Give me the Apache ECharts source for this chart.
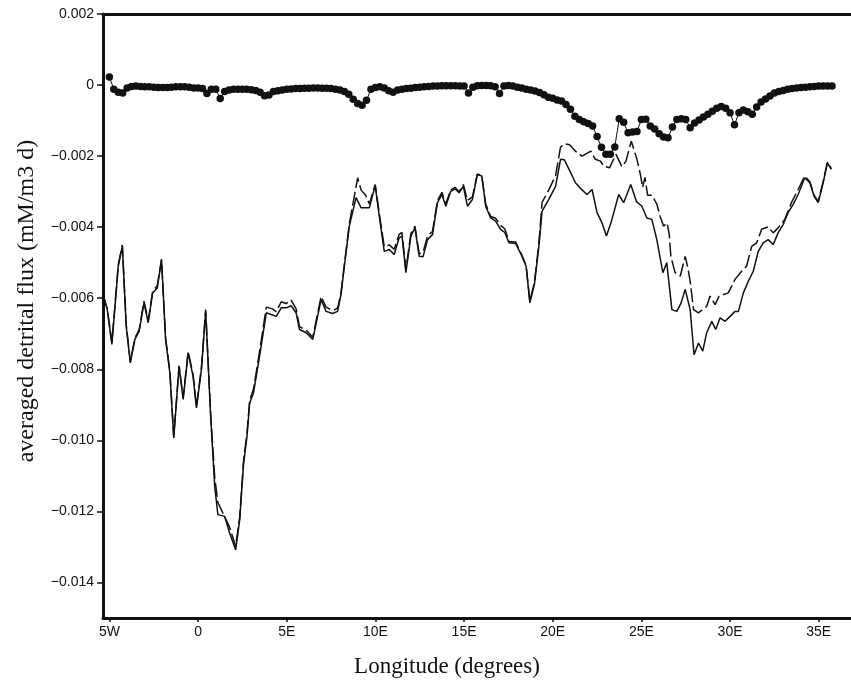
<!DOCTYPE html>
<html>
<head>
<meta charset="utf-8">
<script src="https://cdn.jsdelivr.net/npm/echarts@6/dist/echarts.min.js"></script>
<style>
  html, body { margin: 0; padding: 0; background: #fff; }
  #chart { width: 851px; height: 684px; }
</style>
</head>
<body>
<div id="chart"></div>
<script>
// tick positions (degrees / flux x1e-3)
const xTicks = [-5, 0, 5, 10, 15, 20, 25, 30, 35];
const yTicks = [2, 0, -2, -4, -6, -8, -10, -12, -14];

// solid line: [lon, flux x1e-3]
const solidLine = [
  [-5.40,-3.90],[-5.33,-5.94],[-5.12,-6.32],[-4.86,-7.30],[-4.59,-5.66],[-4.50,-5.10],[-4.27,-4.54],
  [-4.05,-6.79],[-3.82,-7.82],[-3.56,-7.16],[-3.32,-6.93],[-3.05,-6.13],[-2.81,-6.69],[-2.56,-5.85],
  [-2.30,-5.71],[-2.06,-4.93],[-1.83,-7.16],[-1.59,-8.10],[-1.37,-9.93],[-1.07,-7.92],[-0.84,-8.85],
  [-0.56,-7.54],[-0.28,-8.20],[-0.09,-9.09],[0.19,-8.01],[0.43,-6.37],[0.71,-9.32],[0.94,-11.30],
  [1.12,-12.09],[1.50,-12.14],[1.78,-12.61],[2.12,-13.08],[2.35,-12.23],[2.57,-10.64],[2.76,-9.89],
  [2.91,-8.95],[3.13,-8.66],[3.47,-7.63],[3.85,-6.41],[4.41,-6.51],[4.69,-6.27],[4.97,-6.27],
  [5.25,-6.21],[5.53,-6.41],[5.72,-6.88],[6.10,-6.97],[6.47,-7.16],[6.94,-6.04],[7.22,-6.37],
  [7.59,-6.43],[7.87,-6.37],[8.06,-5.90],[8.25,-5.10],[8.53,-3.97],[8.91,-3.17],[9.19,-3.45],
  [9.66,-3.45],[9.99,-2.83],[10.22,-3.69],[10.50,-4.68],[10.78,-4.63],[11.06,-4.77],[11.34,-4.30],
  [11.50,-4.25],[11.72,-5.28],[12.00,-4.25],[12.23,-4.02],[12.47,-4.82],[12.69,-4.83],[12.94,-4.35],
  [13.22,-4.21],[13.50,-3.31],[13.75,-3.08],[13.97,-3.41],[14.25,-2.99],[14.49,-2.92],[14.72,-3.03],
  [14.96,-2.85],[15.19,-3.41],[15.47,-3.22],[15.75,-2.52],[16.00,-2.56],[16.22,-3.41],[16.50,-3.74],
  [16.78,-3.83],[17.06,-4.06],[17.30,-4.15],[17.53,-4.44],[17.91,-4.46],[18.25,-4.80],[18.50,-5.10],
  [18.71,-6.13],[18.97,-5.60],[19.22,-4.54],[19.40,-3.55],[19.78,-3.22],[20.16,-2.85],[20.44,-2.09],
  [20.65,-2.10],[21.00,-2.45],[21.28,-2.75],[21.55,-2.90],[21.93,-3.08],[22.22,-2.94],[22.50,-3.59],
  [22.78,-3.88],[23.03,-4.25],[23.30,-3.85],[23.72,-3.08],[24.00,-3.31],[24.40,-2.80],[24.72,-3.28],
  [25.03,-3.41],[25.31,-3.74],[25.59,-3.78],[25.87,-4.35],[26.21,-5.28],[26.43,-5.00],[26.72,-6.32],
  [27.00,-6.37],[27.24,-6.13],[27.47,-5.75],[27.75,-6.32],[27.97,-7.59],[28.22,-7.26],[28.46,-7.49],
  [28.68,-6.97],[28.97,-6.65],[29.19,-6.88],[29.44,-6.55],[29.72,-6.65],[30.00,-6.51],[30.28,-6.37],
  [30.47,-6.37],[30.75,-5.85],[31.03,-5.52],[31.31,-5.24],[31.59,-4.68],[31.87,-4.44],[32.15,-4.35],
  [32.43,-4.49],[32.71,-4.16],[33.00,-3.92],[33.27,-3.59],[33.56,-3.36],[33.84,-3.08],[34.21,-2.61],
  [34.50,-2.75],[34.74,-3.13],[34.97,-3.31],[35.25,-2.75],[35.49,-2.19],[35.71,-2.37]
];

// dashed line: [lon, flux x1e-3]
const dashedLine = [
  [-5.40,-3.90],[-5.33,-5.94],[-5.12,-6.30],[-4.86,-7.25],[-4.59,-5.62],[-4.50,-5.05],[-4.27,-4.50],
  [-4.05,-6.75],[-3.82,-7.78],[-3.56,-7.12],[-3.32,-6.88],[-3.05,-6.08],[-2.81,-6.62],[-2.56,-5.80],
  [-2.30,-5.65],[-2.06,-4.90],[-1.83,-7.12],[-1.59,-8.05],[-1.37,-9.88],[-1.07,-7.90],[-0.84,-8.80],
  [-0.56,-7.50],[-0.28,-8.15],[-0.09,-9.05],[0.19,-7.95],[0.43,-6.32],[0.71,-9.25],[0.94,-11.05],
  [1.12,-11.75],[1.40,-12.05],[1.78,-12.45],[2.12,-12.98],[2.35,-12.15],[2.57,-10.55],[2.76,-9.80],
  [2.91,-8.88],[3.13,-8.55],[3.47,-7.50],[3.85,-6.25],[4.20,-6.30],[4.41,-6.38],[4.69,-6.10],
  [4.97,-6.15],[5.25,-6.05],[5.53,-6.30],[5.72,-6.80],[6.10,-6.90],[6.47,-7.10],[6.94,-5.95],
  [7.22,-6.25],[7.59,-6.35],[7.87,-6.28],[8.06,-5.85],[8.25,-5.05],[8.53,-3.90],[8.75,-3.30],
  [9.00,-2.61],[9.19,-2.95],[9.45,-3.10],[9.66,-3.35],[9.99,-2.80],[10.22,-3.62],[10.50,-4.55],
  [10.78,-4.50],[11.06,-4.62],[11.34,-4.20],[11.50,-4.15],[11.72,-5.20],[12.00,-4.18],[12.23,-3.97],
  [12.47,-4.75],[12.69,-4.70],[12.94,-4.25],[13.22,-4.12],[13.50,-3.25],[13.75,-3.02],[13.97,-3.35],
  [14.25,-2.95],[14.49,-2.88],[14.72,-3.00],[14.96,-2.80],[15.19,-3.25],[15.47,-3.15],[15.75,-2.50],
  [16.00,-2.55],[16.22,-3.35],[16.50,-3.70],[16.78,-3.75],[17.06,-3.95],[17.30,-4.05],[17.53,-4.40],
  [17.91,-4.42],[18.25,-4.78],[18.50,-5.08],[18.71,-6.08],[18.97,-5.55],[19.22,-4.45],[19.40,-3.30],
  [19.78,-2.95],[20.16,-2.55],[20.44,-1.75],[20.65,-1.65],[20.95,-1.68],[21.28,-1.86],[21.65,-2.00],
  [22.15,-1.86],[22.40,-2.09],[22.69,-2.14],[22.87,-2.28],[23.20,-2.33],[23.57,-1.95],[23.90,-2.30],
  [24.13,-2.14],[24.43,-1.58],[24.75,-2.09],[24.94,-2.51],[25.07,-2.88],[25.20,-2.60],[25.35,-3.10],
  [25.60,-3.10],[25.87,-3.35],[26.06,-3.70],[26.25,-3.97],[26.45,-3.88],[26.57,-4.20],[26.66,-4.82],
  [26.90,-5.28],[27.19,-5.38],[27.47,-4.82],[27.62,-5.14],[27.75,-5.52],[27.94,-6.32],[28.22,-6.41],
  [28.68,-6.23],[28.87,-5.94],[29.16,-6.18],[29.38,-5.94],[29.90,-5.85],[30.28,-5.47],[30.65,-5.24],
  [30.93,-5.10],[31.22,-4.54],[31.50,-4.44],[31.78,-4.06],[32.15,-3.99],[32.43,-4.16],[32.71,-4.02],
  [33.09,-3.78],[33.46,-3.31],[33.84,-2.94],[34.21,-2.56],[34.50,-2.72],[34.74,-3.10],[34.97,-3.28],
  [35.25,-2.72],[35.49,-2.17],[35.71,-2.35]
];

// dotted series, one value per 0.25 deg starting at 5W (flux x1e-3)
const dotStart = -5;
const dotStep = 0.25;
const dotVals = [
  0.23, -0.12, -0.20, -0.22,      // 5W
  -0.08, -0.04, -0.03, -0.04,     // 4W
  -0.05, -0.05, -0.06, -0.07,     // 3W
  -0.07, -0.07, -0.06, -0.05,     // 2W
  -0.05, -0.05, -0.06, -0.08,     // 1W
  -0.08, -0.10, -0.24, -0.12,     // 0
  -0.12, -0.38, -0.18, -0.14,     // 1E
  -0.12, -0.12, -0.12, -0.12,     // 2E
  -0.13, -0.15, -0.20, -0.30,     // 3E
  -0.28, -0.18, -0.16, -0.14,     // 4E
  -0.12, -0.11, -0.10, -0.10,     // 5E
  -0.09, -0.09, -0.08, -0.08,     // 6E
  -0.09, -0.09, -0.10, -0.12,     // 7E
  -0.14, -0.18, -0.26, -0.40,     // 8E
  -0.52, -0.57, -0.43, -0.12,     // 9E
  -0.07, -0.05, -0.08, -0.16,     // 10E
  -0.20, -0.14, -0.12, -0.10,     // 11E
  -0.09, -0.07, -0.06, -0.05,     // 12E
  -0.04, -0.03, -0.03, -0.02,     // 13E
  -0.02, -0.02, -0.02, -0.03,     // 14E
  -0.03, -0.22, -0.06, -0.02,     // 15E
  -0.01, -0.01, -0.02, -0.05,     // 16E
  -0.24, -0.03, -0.01, -0.03,     // 17E
  -0.06, -0.08, -0.12, -0.14,     // 18E
  -0.17, -0.21, -0.27, -0.34,     // 19E
  -0.37, -0.42, -0.45, -0.55,     // 20E
  -0.68, -0.88, -0.97, -1.03,     // 21E
  -1.08, -1.15, -1.45, -1.75,     // 22E
  -1.95, -1.95, -1.74, -0.95,     // 23E
  -1.05, -1.34, -1.32, -1.31,     // 24E
  -0.97, -0.96, -1.15, -1.24,     // 25E
  -1.37, -1.46, -1.48, -1.18,     // 26E
  -0.97, -0.95, -0.97, -1.20,     // 27E
  -1.07, -0.98, -0.90, -0.82,     // 28E
  -0.74, -0.65, -0.60, -0.65,     // 29E
  -0.78, -1.12, -0.78, -0.70,     // 30E
  -0.75, -0.82, -0.62, -0.48,     // 31E
  -0.39, -0.31, -0.22, -0.18,     // 32E
  -0.15, -0.12, -0.10, -0.08,     // 33E
  -0.07, -0.06, -0.05, -0.04,     // 34E
  -0.03, -0.03, -0.03, -0.03      // 35E
];

const toFlux = pts => pts.map(p => [p[0], p[1] / 1000]);
const dotLine = dotVals.map((v, i) => [dotStart + i * dotStep, v / 1000]);

const chart = echarts.init(document.getElementById('chart'), null, { renderer: 'canvas' });

const tickFont = { color: '#111', fontSize: 14, fontFamily: 'Liberation Sans, Arial, sans-serif' };

const option = {
  backgroundColor: '#fff',
  animation: false,
  grid: { left: 103, right: -2, top: 14, bottom: 66 },
  xAxis: [
    {
      type: 'value',
      min: -5.36,
      max: 36.82,
      splitLine: { show: false },
      axisLine: { show: true, onZero: false, lineStyle: { color: '#111', width: 3 } },
      axisTick: { show: true, length: 4, customValues: xTicks, lineStyle: { color: '#111', width: 1.5 } },
      axisLabel: {
        ...tickFont,
        margin: 7,
        customValues: xTicks,
        formatter: v => v < 0 ? Math.abs(v) + 'W' : (v === 0 ? '0' : v + 'E')
      }
    },
    {
      // top border
      type: 'value',
      position: 'top',
      min: -5.36,
      max: 36.82,
      splitLine: { show: false },
      axisLine: { show: true, onZero: false, lineStyle: { color: '#111', width: 3 } },
      axisTick: { show: false },
      axisLabel: { show: false }
    }
  ],
  yAxis: {
    type: 'value',
    min: -0.015,
    max: 0.002,
    splitLine: { show: false },
    axisLine: { show: true, onZero: false, lineStyle: { color: '#111', width: 3 } },
    axisTick: { show: true, length: 6, customValues: yTicks.map(v => v / 1000), lineStyle: { color: '#111', width: 1.5 } },
    axisLabel: {
      ...tickFont,
      margin: 9,
      customValues: yTicks.map(v => v / 1000),
      formatter: v => {
        const r = Math.round(v * 1000);
        if (r === 0) return '0';
        return (r < 0 ? '\u2212' : '') + Math.abs(r / 1000).toFixed(3);
      }
    }
  },
  graphic: [
    {
      type: 'text',
      x: 27,
      y: 301,
      rotation: Math.PI / 2,
      style: {
        text: 'averaged detrital flux (mM/m3 d)',
        font: '24px "Liberation Serif", "Times New Roman", serif',
        fill: '#111',
        textAlign: 'center',
        textVerticalAlign: 'middle'
      }
    },
    {
      type: 'text',
      x: 447,
      y: 667,
      style: {
        text: 'Longitude (degrees)',
        font: '23px "Liberation Serif", "Times New Roman", serif',
        fill: '#111',
        textAlign: 'center',
        textVerticalAlign: 'middle'
      }
    }
  ],
  series: [
    {
      type: 'line',
      data: toFlux(dashedLine),
      showSymbol: false,
      lineStyle: { color: '#111', width: 1.5, type: [14, 4] },
      z: 2
    },
    {
      type: 'line',
      data: toFlux(solidLine),
      showSymbol: false,
      lineStyle: { color: '#111', width: 1.5 },
      z: 3
    },
    {
      type: 'line',
      data: dotLine,
      symbol: 'circle',
      symbolSize: 7.5,
      itemStyle: { color: '#111' },
      lineStyle: { color: '#111', width: 1 },
      z: 4
    }
  ]
};

chart.setOption(option);
</script>
</body>
</html>
